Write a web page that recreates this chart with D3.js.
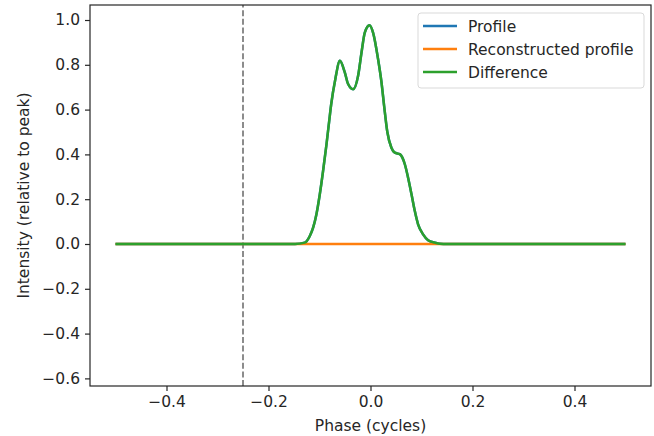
<!DOCTYPE html>
<html>
<head>
<meta charset="utf-8">
<script src="https://cdn.jsdelivr.net/npm/d3@7"></script>
<style>
  body { margin: 0; background: #fff; }
  text { font-family: "DejaVu Sans", sans-serif; fill: #262626; }
</style>
</head>
<body>
<div id="chart"></div>
<script>
// phase (cycles) and intensity
var phase = [-0.5, -0.3, -0.16, -0.148, -0.129, -0.119, -0.1125, -0.106, -0.0994, -0.093, -0.0863,
             -0.081, -0.077, -0.069, -0.060, -0.0504, -0.0439, -0.0341, -0.0243, -0.0176, -0.0112,
             -0.002, 0.005, 0.0149, 0.0216, 0.0267, 0.033, 0.041, 0.0476, 0.0575, 0.0673,
             0.0737, 0.0804, 0.0869, 0.0933, 0.1031, 0.1129, 0.126, 0.136, 0.15, 0.3, 0.5];
var profile = [0, 0, 0, 0, 0.006, 0.036, 0.073, 0.133, 0.222, 0.326, 0.445,
               0.549, 0.625, 0.736, 0.818, 0.766, 0.714, 0.691, 0.751, 0.855, 0.944,
               0.977, 0.944, 0.825, 0.721, 0.617, 0.500, 0.430, 0.408, 0.401, 0.356,
               0.296, 0.222, 0.147, 0.088, 0.043, 0.017, 0.006, 0.001, 0, 0, 0];
var reconstructed = phase.map(function() { return 0; });
var difference = profile.map(function(v, i) { return v - reconstructed[i]; });

var xTicks = [-0.4, -0.2, 0.0, 0.2, 0.4];
var yTicks = [-0.6, -0.4, -0.2, 0.0, 0.2, 0.4, 0.6, 0.8, 1.0];
var markerPhase = -0.25;

var series = [
    {name: "Profile", values: profile, color: "#1f77b4"},
    {name: "Reconstructed profile", values: reconstructed, color: "#ff7f0e"},
    {name: "Difference", values: difference, color: "#2ca02c"}
];

var width = 654, height = 436;
var margin = {top: 5, left: 90, right: 3, bottom: 50};
var fontSize = "15.5px";

var svg = d3.select("#chart").append("svg")
    .attr("width", width).attr("height", height);

var x = d3.scaleLinear().domain([-0.55, 0.55]).range([margin.left, width - margin.right]);
var y = d3.scaleLinear().domain([-0.634, 1.067]).range([height - margin.bottom, margin.top]);

var fmt = function(d) { return d3.format(".1f")(d).replace("-", "\u2212"); };

// marker line
svg.append("line")
    .attr("x1", x(markerPhase)).attr("x2", x(markerPhase))
    .attr("y1", y.range()[0]).attr("y2", y.range()[1])
    .attr("stroke", "#808080").attr("stroke-width", 1.8)
    .attr("stroke-dasharray", "6,2.6");

var line = d3.line()
    .x(function(d, i) { return x(phase[i]); })
    .y(function(d) { return y(d); })
    .curve(d3.curveMonotoneX);

series.forEach(function(s) {
    svg.append("path")
        .attr("d", line(s.values))
        .attr("fill", "none")
        .attr("stroke", s.color)
        .attr("stroke-width", 2.5)
        .attr("stroke-linejoin", "round");
});

// axes
var xAxis = svg.append("g")
    .attr("transform", "translate(0," + y.range()[0] + ")")
    .call(d3.axisBottom(x).tickValues(xTicks).tickFormat(fmt).tickSize(5).tickPadding(5));
var yAxis = svg.append("g")
    .attr("transform", "translate(" + x.range()[0] + ",0)")
    .call(d3.axisLeft(y).tickValues(yTicks).tickFormat(fmt).tickSize(5).tickPadding(5));
[xAxis, yAxis].forEach(function(a) {
    a.select(".domain").remove();
    a.selectAll("text").style("font-size", fontSize).attr("fill", "#262626");
    a.selectAll("line").attr("stroke", "#262626").attr("stroke-width", 1.2);
});

svg.append("rect")
    .attr("x", x.range()[0]).attr("y", y.range()[1])
    .attr("width", x.range()[1] - x.range()[0])
    .attr("height", y.range()[0] - y.range()[1])
    .attr("fill", "none").attr("stroke", "#262626").attr("stroke-width", 1.2);

svg.append("text")
    .attr("x", (x.range()[0] + x.range()[1]) / 2).attr("y", 431)
    .attr("text-anchor", "middle").style("font-size", fontSize)
    .text("Phase (cycles)");
svg.append("text")
    .attr("transform", "translate(29," + ((y.range()[0] + y.range()[1]) / 2) + ") rotate(-90)")
    .attr("text-anchor", "middle").style("font-size", fontSize)
    .text("Intensity (relative to peak)");

// legend
var legend = svg.append("g").attr("transform", "translate(418,13)");
legend.append("rect")
    .attr("width", 226).attr("height", 75).attr("rx", 3)
    .attr("fill", "#fff").attr("fill-opacity", 0.8)
    .attr("stroke", "#d9d9d9");
series.forEach(function(s, i) {
    var ly = 13 + i * 23;
    legend.append("line")
        .attr("x1", 5).attr("x2", 39).attr("y1", ly).attr("y2", ly)
        .attr("stroke", s.color).attr("stroke-width", 2.5);
    legend.append("text")
        .attr("x", 50).attr("y", ly + 5.5)
        .style("font-size", fontSize)
        .text(s.name);
});
</script>
</body>
</html>
